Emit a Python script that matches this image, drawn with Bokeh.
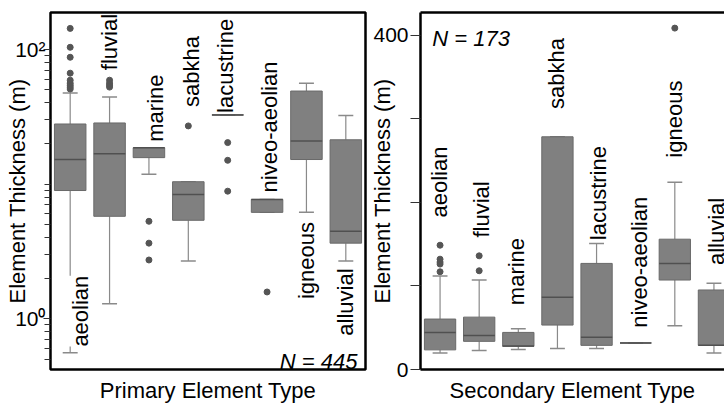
import math
from bokeh.plotting import figure
from bokeh.models import Range1d, FixedTicker, LinearAxis, Label, ColumnDataSource
from bokeh.layouts import row
from bokeh.embed import file_html
from bokeh.resources import INLINE
from bokeh.core.properties import value

# ---------------- data ----------------
categories = ["aeolian", "fluvial", "marine", "sabkha", "lacustrine",
              "niveo-aeolian", "igneous", "alluvial"]

# Primary element type (log scale), thickness in m
prim_lower  = [0.56, 1.29, 11.8, 2.68, 32.6, 6.16, 6.16, 2.68]
prim_q1     = [8.95, 5.76, 15.7, 5.38, 32.6, 6.16, 15.2, 3.64]
prim_median = [15.2, 16.8, 18.6, 8.37, 32.6, 7.69, 20.9, 4.46]
prim_q3     = [27.9, 28.4, 18.6, 10.4, 32.6, 7.69, 49.0, 21.3]
prim_upper  = [47.3, 44.2, 18.6, 10.4, 32.6, 7.69, 56.1, 32.2]
prim_out_cat = ["aeolian"] * 9 + ["fluvial"] * 4 + ["marine"] * 3 + ["sabkha"] + \
               ["lacustrine"] * 3 + ["niveo-aeolian"]
prim_out_val = [50.7, 52.4, 54.2, 56.1, 59.0, 66.5, 87.3, 103.5, 143.0,
                52.4, 54.2, 56.1, 59.0,
                5.29, 3.64, 2.73,
                27.0,
                20.3, 15.0, 8.85,
                1.58]
prim_n = "N = 445"

# Secondary element type (linear scale), thickness in m
sec_lower  = [19.9, 22.6, 23.8, 25.0, 25.0, 31.8, 52.4, 19.9]
sec_q1     = [23.5, 33.7, 27.7, 53.2, 28.9, 31.8, 107.1, 28.9]
sec_median = [44.4, 40.8, 28.0, 86.5, 38.5, 31.8, 127.0, 28.9]
sec_q3     = [60.4, 62.7, 44.4, 278.6, 127.0, 31.8, 156.0, 95.2]
sec_upper  = [111.9, 107.1, 48.8, 278.6, 150.8, 31.8, 224.2, 103.2]
sec_out_cat = ["aeolian"] * 5 + ["fluvial"] * 2 + ["igneous"]
sec_out_val = [148.8, 132.1, 128.6, 126.2, 117.0,
               136.1, 118.2,
               408.7]
sec_n = "N = 173"

# where each category name is written (start of the rotated text)
prim_label_dx = [0.26, 0.0, 0.17, 0.08, -0.05, 0.05, 0.0, 0.0]
prim_label_y  = [0.621, 70.0, 20.6, 37.3, 33.7, 8.66, 1.40, 0.749]
sec_label_dx  = [-0.01, 0.06, -0.04, -0.03, 0.05, 0.10, 0.0, 0.06]
sec_label_y   = [182.0, 158.0, 77.0, 312.0, 154.8, 50.0, 253.6, 125.0]

# ---------------- styles ----------------
FONT = "Liberation Sans"
BOX_FILL = "#808080"
BOX_EDGE = "#696969"
MEDIAN = "#505050"
WHISK = "#8a8a8a"
OUTLIER = "#555555"
TICK = "#333333"
H = 405


def draw_boxes(p, lower, q1, med, q3, upper, out_cat, out_val):
    idx = list(range(len(categories)))
    pos = {c: i for i, c in enumerate(categories)}
    p.segment(x0=idx, y0=q3, x1=idx, y1=upper, line_color=WHISK, line_width=1.2)
    p.segment(x0=idx, y0=q1, x1=idx, y1=lower, line_color=WHISK, line_width=1.2)
    p.segment(x0=[i - 0.19 for i in idx], y0=upper, x1=[i + 0.19 for i in idx], y1=upper,
              line_color=WHISK, line_width=1.5)
    p.segment(x0=[i - 0.19 for i in idx], y0=lower, x1=[i + 0.19 for i in idx], y1=lower,
              line_color=WHISK, line_width=1.5)
    p.vbar(x=idx, width=0.8, bottom=q1, top=q3, fill_color=BOX_FILL,
           line_color=BOX_EDGE, line_width=1)
    p.segment(x0=[i - 0.4 for i in idx], y0=med, x1=[i + 0.4 for i in idx], y1=med,
              line_color=MEDIAN, line_width=1.5)
    p.scatter(x=[pos[c] for c in out_cat], y=out_val, size=6,
              fill_color=OUTLIER, line_color=OUTLIER)


def draw_labels(p, dx, ys, masked):
    # masked: names whose text hides what lies beneath (white backing)
    xs = [i + d for i, d in enumerate(dx)]
    for want_bg in (False, True):
        sel = [k for k, c in enumerate(categories) if (c in masked) == want_bg]
        if not sel:
            continue
        src = ColumnDataSource(dict(x=[xs[k] for k in sel], y=[ys[k] for k in sel],
                                    t=[categories[k] for k in sel]))
        kw = dict(background_fill_color="white") if want_bg else {}
        p.text(x="x", y="y", text="t", source=src, angle=math.pi / 2,
               text_font=value(FONT), text_font_size="22px", text_color="black",
               text_align="left", text_baseline="middle", **kw)


def style_common(p):
    p.grid.visible = False
    p.background_fill_color = "white"
    p.border_fill_color = "white"
    for ax in p.yaxis:
        ax.axis_label_text_font = FONT
        ax.axis_label_text_font_size = "22px"
        ax.axis_label_text_font_style = "normal"
        ax.axis_label_text_color = "black"
        ax.major_label_text_font = FONT
        ax.major_label_text_font_size = "21px"
        ax.major_label_text_color = "black"
        ax.major_tick_line_color = TICK
        ax.minor_tick_line_color = TICK
        ax.major_tick_in = 0
        ax.minor_tick_in = 0
    for ax in p.xaxis:
        ax.ticker = FixedTicker(ticks=[])
        ax.major_tick_out = 0
        ax.minor_tick_out = 0
        ax.major_tick_in = 0
        ax.minor_tick_in = 0
        ax.axis_label_text_font = FONT
        ax.axis_label_text_font_size = "22px"
        ax.axis_label_text_font_style = "normal"
        ax.axis_label_text_color = "black"


# ---------------- left: primary ----------------
p1 = figure(width=367, height=H, y_axis_type="log", output_backend="svg",
            toolbar_location=None, x_range=Range1d(-0.5, 7.5),
            y_range=Range1d(0.420, 187.6),
            min_border_left=50, min_border_right=2, min_border_top=12,
            min_border_bottom=H - 371)
style_common(p1)
p1.outline_line_color = "black"
p1.outline_line_width = 2.5
p1.yaxis.axis_line_color = None
p1.xaxis.axis_line_color = None
p1.yaxis.ticker = FixedTicker(
    ticks=[1, 100],
    minor_ticks=[0.5, 0.6, 0.7, 0.8, 0.9, 2, 3, 4, 5, 6, 7, 8, 9,
                 10, 20, 30, 40, 50, 60, 70, 80, 90])
p1.yaxis.major_label_overrides = {1: "10\u2070", 100: "10\u00b2"}
p1.yaxis.major_tick_out = 7
p1.yaxis.minor_tick_out = 6
p1.yaxis.major_label_standoff = -2
p1.yaxis.axis_label = "Element Thickness (m)"
p1.yaxis.axis_label_standoff = -18
p1.xaxis.axis_label = "Primary Element Type"
p1.xaxis.axis_label_standoff = 8

draw_boxes(p1, prim_lower, prim_q1, prim_median, prim_q3, prim_upper,
           prim_out_cat, prim_out_val)
draw_labels(p1, prim_label_dx, prim_label_y, masked={"aeolian"})
p1.add_layout(Label(x=7.297, y=0.482, text=prim_n, text_align="right",
                    text_baseline="alphabetic", text_font=FONT,
                    text_font_size="22px", text_font_style="italic",
                    text_color="black"))

# ---------------- right: secondary ----------------
p2 = figure(width=357, height=H, output_backend="svg", toolbar_location=None,
            x_range=Range1d(-0.5, 7.27), y_range=Range1d(0, 427.4),
            min_border_left=51, min_border_right=0, min_border_top=11,
            min_border_bottom=H - 370)
style_common(p2)
p2.outline_line_color = None
p2.yaxis.ticker = FixedTicker(ticks=[0, 400], minor_ticks=[100, 200, 300])
p2.yaxis.major_tick_out = 10
p2.yaxis.minor_tick_out = 10
p2.yaxis.major_label_standoff = 2
p2.yaxis.axis_line_color = "black"
p2.yaxis.axis_line_width = 2.5
p2.yaxis.axis_label = "Element Thickness (m)"
p2.yaxis.axis_label_standoff = -25
p2.xaxis.axis_line_color = "black"
p2.xaxis.axis_line_width = 2.5
p2.xaxis.axis_label = "Secondary Element Type"
p2.xaxis.axis_label_standoff = 8
top_axis = LinearAxis(ticker=FixedTicker(ticks=[]), major_tick_out=0,
                      minor_tick_out=0, major_tick_in=0, minor_tick_in=0,
                      axis_line_color="black", axis_line_width=2.5,
                      major_label_text_font_size="0px")
p2.add_layout(top_axis, "above")

draw_boxes(p2, sec_lower, sec_q1, sec_median, sec_q3, sec_upper,
           sec_out_cat, sec_out_val)
draw_labels(p2, sec_label_dx, sec_label_y, masked=set())
p2.add_layout(Label(x=-0.2, y=396.4, text=sec_n, text_align="left",
                    text_baseline="alphabetic", text_font=FONT,
                    text_font_size="22px", text_font_style="italic",
                    text_color="black"))

layout = row(p1, p2)
open("out.html", "w").write(file_html(layout, INLINE))
